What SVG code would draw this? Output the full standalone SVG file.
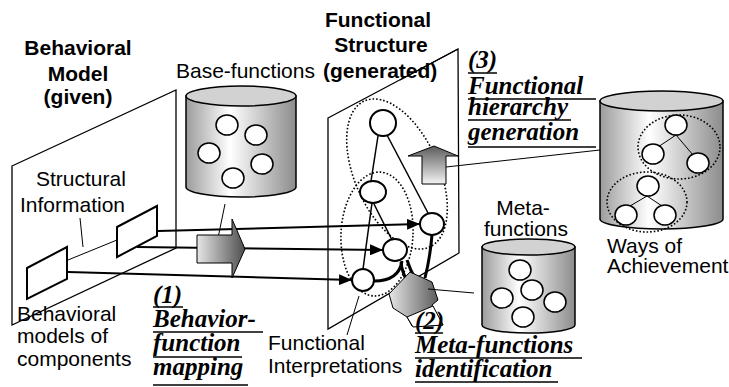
<svg xmlns="http://www.w3.org/2000/svg" width="729" height="387" viewBox="0 0 729 387">
<style>
.sans{font-family:"Liberation Sans",Arial,sans-serif;font-size:21px;fill:#000}
.bold{font-weight:bold}
.ser{font-family:"Liberation Serif","Times New Roman",serif;font-size:25px;font-weight:bold;font-style:italic;fill:#000}
.plane{fill:#fff;stroke:#000;stroke-width:1.3}
.cyl{fill:url(#cylG);stroke:#000;stroke-width:1.5}
.cyltop{fill:#d2d2d2;stroke:#000;stroke-width:1.5}
.c{fill:#fff;stroke:#000;stroke-width:1.5}
.fc{fill:#fff;stroke:#000;stroke-width:2}
.dot{fill:none;stroke:#000;stroke-width:1.6;stroke-dasharray:1.6 2}
.thin{fill:none;stroke:#000;stroke-width:1}
.edge{fill:none;stroke:#000;stroke-width:1.5}
.arr{fill:none;stroke:#000;stroke-width:2;marker-end:url(#ah)}
.thick{fill:none;stroke:#000;stroke-width:3}
.ul{stroke:#000;stroke-width:1.5}
</style>
<defs>
<linearGradient id="cylG" x1="0" y1="0" x2="1" y2="0">
<stop offset="0" stop-color="#9c9c9c"/><stop offset="0.4" stop-color="#ffffff"/><stop offset="1" stop-color="#8c8c8c"/>
</linearGradient>
<linearGradient id="g1" x1="0" y1="0" x2="1" y2="0">
<stop offset="0" stop-color="#e6e6e6"/><stop offset="1" stop-color="#4e4e4e"/>
</linearGradient>
<linearGradient id="g3" x1="0" y1="0" x2="0" y2="1">
<stop offset="0" stop-color="#5a5a5a"/><stop offset="1" stop-color="#f4f4f4"/>
</linearGradient>
<marker id="ah" markerUnits="userSpaceOnUse" markerWidth="13" markerHeight="11" refX="13" refY="5.5" orient="auto">
<path d="M0,0 L13,5.5 L0,11 Z" fill="#000"/>
</marker>
</defs>

<g id="behavioral-model">
<polygon class="plane" points="12,166 176,90 176,248 12,325"/>
<text class="sans bold" x="78" y="55" text-anchor="middle">Behavioral</text>
<text class="sans bold" x="78" y="81" text-anchor="middle">Model</text>
<text class="sans bold" x="78" y="104" text-anchor="middle">(given)</text>
<text class="sans" x="36" y="186">Structural</text>
<text class="sans" x="20" y="212">Information</text>
<line class="thin" x1="68" y1="260" x2="117" y2="240"/>
<line class="thin" x1="80" y1="218" x2="83" y2="247"/>
<text class="sans" x="17" y="321">Behavioral</text>
<text class="sans" x="17" y="343">models of</text>
<text class="sans" x="17" y="366">components</text>
</g>

<g id="base-functions">
<path class="cyl" d="M186,96 L186,187 A55,10 0 0 0 296,187 L296,96 Z"/>
<ellipse class="cyltop" cx="241" cy="96" rx="55" ry="10"/>
<ellipse class="c" cx="227" cy="125" rx="11" ry="10"/>
<ellipse class="c" cx="256" cy="135" rx="11" ry="10"/>
<ellipse class="c" cx="209" cy="153" rx="11" ry="10"/>
<ellipse class="c" cx="262" cy="164" rx="11" ry="10"/>
<ellipse class="c" cx="233" cy="178" rx="11" ry="10"/>
<text class="sans" x="176" y="78">Base-functions</text>
<line class="thin" x1="225" y1="204" x2="218" y2="238"/>
</g>

<g id="functional-structure">
<polygon class="plane" points="328,118 458,49 459,253 328,329"/>
<text class="sans bold" x="378" y="27" text-anchor="middle">Functional</text>
<text class="sans bold" x="381" y="52" text-anchor="middle">Structure</text>
<text class="sans bold" x="323" y="78">(generated)</text>
<line class="plane" x1="400" y1="80" x2="458" y2="49"/>
<ellipse class="dot" cx="397" cy="174" rx="42" ry="80" transform="rotate(-24 397 174)"/>
<ellipse class="dot" cx="377" cy="234" rx="36" ry="62" transform="rotate(3 377 234)"/>
<line class="edge" x1="378" y1="136" x2="371" y2="181"/>
<line class="edge" x1="387" y1="135" x2="428" y2="213"/>
<line class="edge" x1="372" y1="203" x2="363" y2="269"/>
<line class="edge" x1="374" y1="204" x2="392" y2="240"/>
<path class="thick" d="M374,281 Q399,281 402,261"/>
<path class="thick" d="M401,262 Q402,272 407,281"/>
<path class="thick" d="M407,260 Q410,270 416,280"/>
<path class="thick" d="M432,235 Q430,258 425,278"/>
<ellipse class="fc" cx="383" cy="123" rx="13" ry="13"/>
<ellipse class="fc" cx="373" cy="192" rx="13" ry="11"/>
<ellipse class="fc" cx="432" cy="224" rx="12" ry="11"/>
<ellipse class="fc" cx="395" cy="250" rx="12" ry="11"/>
<ellipse class="fc" cx="363" cy="280" rx="11" ry="11"/>
<text class="sans" x="268" y="350">Functional</text>
<text class="sans" x="268" y="373">Interpretations</text>
<line class="thin" x1="347" y1="335" x2="359" y2="296"/>
</g>

<g id="connectors">
<line class="arr" x1="158" y1="231" x2="420" y2="224"/>
<line class="arr" x1="137" y1="247" x2="383" y2="250"/>
<line class="arr" x1="68" y1="272" x2="352" y2="280"/>
</g>

<g id="box-upper">
<polygon points="117,227 157,206 157,236 117,257" fill="#fff" stroke="#000" stroke-width="2"/>
</g>
<g id="box-lower">
<polygon points="27,268 67,247 67,279 27,299" fill="#fff" stroke="#000" stroke-width="2"/>
</g>

<g id="step1">
<polygon points="197,235 232,235 232,219 245,249 232,278 232,263 197,263" fill="url(#g1)" stroke="#000" stroke-width="1"/>
<text class="ser" x="153" y="303">(1)</text>
<line class="ul" x1="153" y1="307" x2="183" y2="307"/>
<text class="ser" x="153" y="327">Behavior-</text>
<line class="ul" x1="153" y1="332" x2="263" y2="332"/>
<text class="ser" x="153" y="351">function</text>
<line class="ul" x1="153" y1="357" x2="242" y2="357"/>
<text class="ser" x="153" y="375">mapping</text>
<line class="ul" x1="153" y1="385" x2="248" y2="385"/>
</g>

<g id="step2">
<polygon points="389,294 410,272 432,282 438,300 432,305 443,325 412,326 407,317 393,308" fill="url(#g1)" stroke="#000" stroke-width="1"/>
<polygon points="407,317 433,306 443,325 413,327" fill="#fff" stroke="#000" stroke-width="1"/>
<line class="thin" x1="428" y1="289" x2="474" y2="293"/>
<text class="ser" x="415" y="329">(2)</text>
<line class="ul" x1="415" y1="333" x2="443" y2="333"/>
<text class="ser" x="415" y="353">Meta-functions</text>
<line class="ul" x1="415" y1="358" x2="582" y2="358"/>
<text class="ser" x="415" y="377">identification</text>
<line class="ul" x1="415" y1="382" x2="558" y2="382"/>
</g>

<g id="meta-functions">
<path class="cyl" d="M482,247 L482,325 A46.5,8 0 0 0 575,325 L575,247 Z"/>
<ellipse class="cyltop" cx="528.5" cy="247" rx="46.5" ry="8"/>
<ellipse class="c" cx="520" cy="270" rx="11" ry="10"/>
<ellipse class="c" cx="532" cy="290" rx="11" ry="10"/>
<ellipse class="c" cx="502" cy="298" rx="11" ry="10"/>
<ellipse class="c" cx="555" cy="302" rx="11" ry="10"/>
<ellipse class="c" cx="523" cy="317" rx="11" ry="10"/>
<text class="sans" x="523" y="215" text-anchor="middle">Meta-</text>
<text class="sans" x="526" y="236" text-anchor="middle">functions</text>
</g>

<g id="step3">
<polygon points="434,146 458,156 446,156 446,184 422,184 422,156 408,156" fill="url(#g3)" stroke="#000" stroke-width="1"/>
<line class="thin" x1="446" y1="167" x2="600" y2="150"/>
<text class="ser" x="468" y="68">(3)</text>
<line class="ul" x1="468" y1="73" x2="497" y2="73"/>
<text class="ser" x="468" y="94">Functional</text>
<line class="ul" x1="468" y1="99" x2="596" y2="99"/>
<text class="ser" x="468" y="115">hierarchy</text>
<line class="ul" x1="468" y1="120" x2="571" y2="120"/>
<text class="ser" x="468" y="140">generation</text>
<line class="ul" x1="468" y1="147" x2="596" y2="147"/>
</g>

<g id="ways-of-achievement">
<path class="cyl" d="M600,101 L600,219 A61.5,10 0 0 0 723,219 L723,101 Z"/>
<ellipse class="cyltop" cx="661.5" cy="101" rx="61.5" ry="10"/>
<ellipse class="dot" cx="679" cy="147" rx="41" ry="32"/>
<ellipse class="dot" cx="647" cy="202" rx="40" ry="30"/>
<line class="thin" x1="676" y1="135" x2="658" y2="147"/>
<line class="thin" x1="676" y1="135" x2="693" y2="155"/>
<line class="thin" x1="647" y1="196" x2="630" y2="206"/>
<line class="thin" x1="647" y1="196" x2="662" y2="206"/>
<ellipse class="c" cx="676" cy="125" rx="11" ry="10"/>
<ellipse class="c" cx="653" cy="154" rx="11" ry="10"/>
<ellipse class="c" cx="698" cy="163" rx="11" ry="10"/>
<ellipse class="c" cx="648" cy="186" rx="11" ry="10"/>
<ellipse class="c" cx="626" cy="215" rx="11" ry="10"/>
<ellipse class="c" cx="665" cy="215" rx="11" ry="10"/>
<text class="sans" x="607" y="253">Ways of</text>
<text class="sans" x="607" y="273">Achievement</text>
</g>
</svg>
